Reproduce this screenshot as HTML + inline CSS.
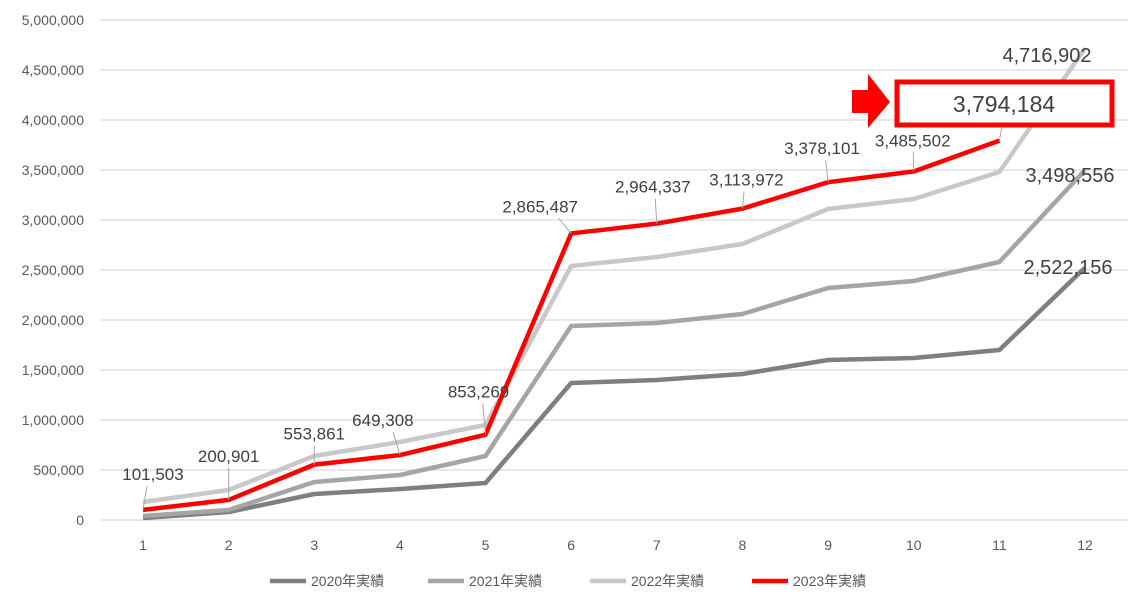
<!DOCTYPE html>
<html><head><meta charset="utf-8"><style>
body{margin:0;background:#fff;}
svg text{font-family:"Liberation Sans","Noto Sans CJK JP",sans-serif;}
</style></head><body>
<svg id="chart" width="1144" height="610" viewBox="0 0 1144 610" xmlns="http://www.w3.org/2000/svg"></svg>
<script>
const categories=[1,2,3,4,5,6,7,8,9,10,11,12];
const yTicks=[0,500000,1000000,1500000,2000000,2500000,3000000,3500000,4000000,4500000,5000000];
const s2020=[20000,80000,260000,310000,370000,1370000,1400000,1460000,1600000,1620000,1700000,2522156];
const s2021=[40000,100000,380000,450000,640000,1940000,1970000,2060000,2320000,2390000,2580000,3498556];
const s2022=[180000,300000,640000,780000,950000,2540000,2630000,2760000,3110000,3210000,3480000,4716902];
const s2023=[101503,200901,553861,649308,853269,2865487,2964337,3113972,3378101,3485502,3794184];
const seriesNames=["2020年実績","2021年実績","2022年実績","2023年実績"];
const NS="http://www.w3.org/2000/svg";
const svg=document.getElementById('chart');
const X=i=>143+(1085-143)*i/11;
const Y=v=>520-v/5000000*500;
const fmt=v=>v.toLocaleString('en-US');
function mk(t,a,p){const e=document.createElementNS(NS,t);for(const k in a)e.setAttribute(k,a[k]);(p||svg).appendChild(e);return e;}
const grid=mk('g',{});


yTicks.forEach(v=>{
 const l=mk('line',{x1:100,x2:1128,y1:Y(v),y2:Y(v),stroke:'#d9d9d9','stroke-width':1.3},grid);
 
 
 const t=mk('text',{x:84,y:Y(v)+5,'text-anchor':'end','font-size':14,fill:'#595959'});
 t.textContent=fmt(v);
 
 
});
categories.forEach((c,i)=>{
 const t=mk('text',{x:X(i),y:550,'text-anchor':'middle','font-size':14,fill:'#595959'});
 t.textContent=c;
 
 
});
const colors=['#7f7f7f','#a5a5a5','#c8c8c8','#ff0000'];
const all=[s2020,s2021,s2022,s2023];
all.forEach((s,k)=>{
 const p=mk('polyline',{points:s.map((v,i)=>X(i)+','+Y(v)).join(' '),fill:'none',stroke:colors[k],'stroke-width':4.5,'stroke-linejoin':'round'});
 
 
});
const lblOff=[[10,-30],[0,-38],[0,-25],[-17,-29],[-7,-37],[-31,-21],[-4,-31],[4,-23],[-6,-28],[-1,-25]];
s2023.slice(0,10).forEach((v,i)=>{
 const px=X(i),py=Y(v),tx=px+lblOff[i][0],ty=py+lblOff[i][1];
 const l=mk('line',{x1:px,y1:py,x2:px+lblOff[i][0]*0.4,y2:Math.min(py,ty+6),stroke:'#a6a6a6','stroke-width':1});
 
 
 const t=mk('text',{x:tx,y:ty,'text-anchor':'middle','font-size':17,fill:'#404040'});
 t.textContent=fmt(v);
 
 
});
[[s2020,1068,274],[s2021,1070,182],[s2022,1047,62]].forEach(([s,x,y])=>{
 const t=mk('text',{x:x,y:y,'text-anchor':'middle','font-size':20,fill:'#404040'});
 t.textContent=fmt(s[11]);
 
 
});
const last=s2023[10];
const lx=mk('line',{x1:X(10),y1:Y(last),x2:X(10)+4,y2:Y(last)-22,stroke:'#a6a6a6','stroke-width':1});


const box=mk('rect',{x:897,y:82,width:215,height:43,fill:'#fff',stroke:'#ff0000','stroke-width':5});


const bt=mk('text',{x:1004,y:112,'text-anchor':'middle','font-size':23,fill:'#404040'});
bt.textContent=fmt(last);


const arr=mk('polygon',{points:'852,90 868,90 868,74 890,102 868,128 868,113 852,113',fill:'#ff0000'});


const lx0=[270,428,590,752];
seriesNames.forEach((n,k)=>{
 const g=mk('g',{});
 
 
 mk('line',{x1:lx0[k],x2:lx0[k]+36,y1:581,y2:581,stroke:colors[k],'stroke-width':4.5},g);
 const t=mk('text',{x:lx0[k]+41,y:586,'font-size':14,fill:'#595959'},g);
 t.textContent=n;
});
</script>
</body></html>
